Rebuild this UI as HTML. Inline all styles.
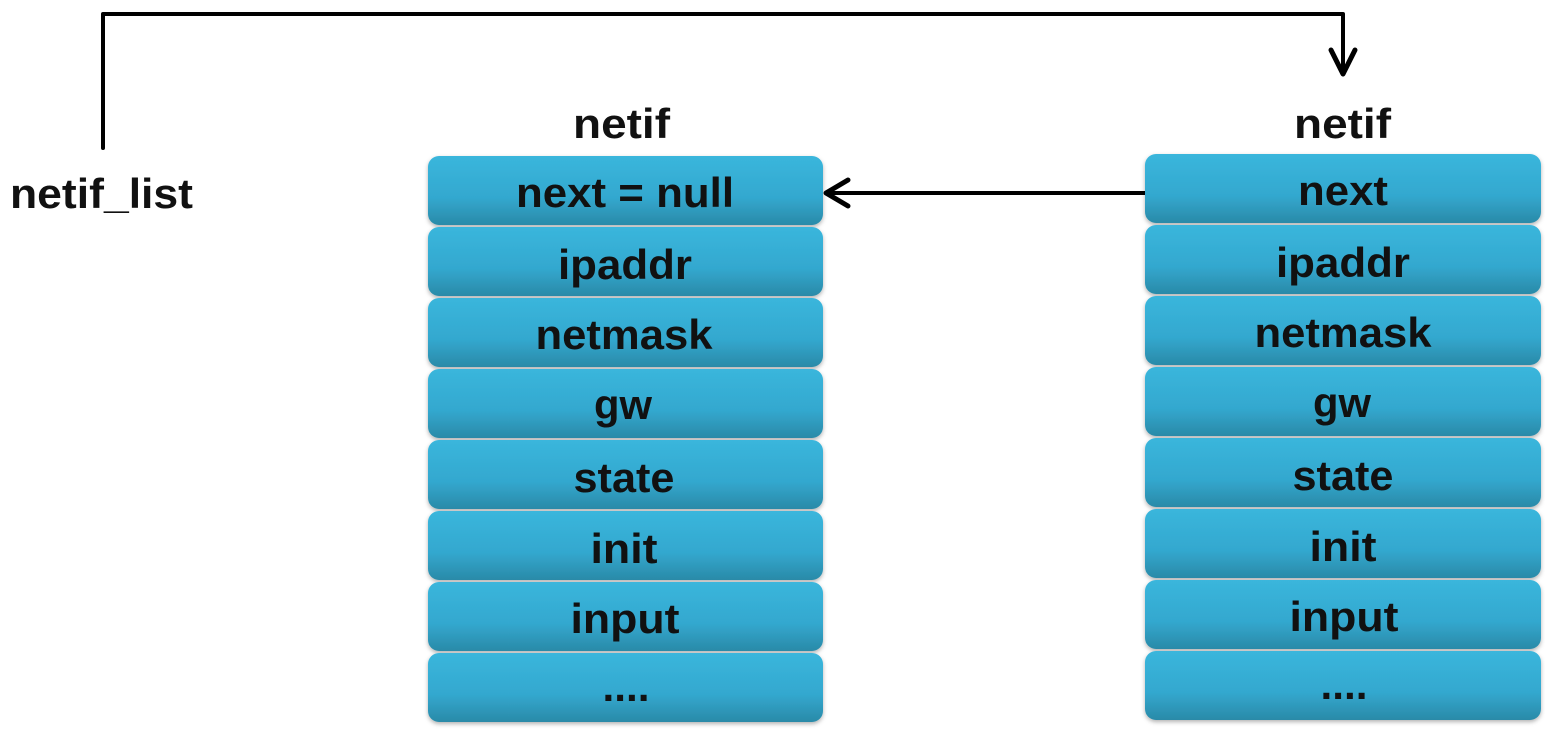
<!DOCTYPE html>
<html><head><meta charset="utf-8"><style>
html,body{margin:0;padding:0;background:#fff;}
svg{display:block}
text{font-family:"Liberation Sans",sans-serif;font-weight:bold;fill:#111;}
</style></head><body>
<svg width="1545" height="734" viewBox="0 0 1545 734" xmlns="http://www.w3.org/2000/svg">
<defs>
<linearGradient id="g" x1="0" y1="0" x2="0" y2="1">
<stop offset="0" stop-color="#3ab6dc"/>
<stop offset="0.6" stop-color="#33a8cf"/>
<stop offset="1" stop-color="#2a8aa8"/>
</linearGradient>
<filter id="s" x="-5%" y="-20%" width="110%" height="150%"><feDropShadow dx="0" dy="2" stdDeviation="2" flood-color="#000" flood-opacity="0.3"/></filter>
</defs>
<g fill="none" stroke="#000" stroke-width="4" stroke-linejoin="round" stroke-linecap="round">
<polyline points="103,148 103,14 1343,14 1343,74"/>
<polyline points="1331,50 1343,74 1355,50" stroke-width="5"/>
<line x1="1145" y1="193" x2="826" y2="193"/>
<polyline points="848,180 826,193 848,206" stroke-width="5"/>
</g>
<text x="10" y="208" font-size="42" textLength="183" lengthAdjust="spacingAndGlyphs">netif_list</text>
<text x="573" y="138" font-size="42" textLength="97" lengthAdjust="spacingAndGlyphs">netif</text>
<text x="1294" y="138" font-size="42" textLength="97" lengthAdjust="spacingAndGlyphs">netif</text>
<g filter="url(#s)" fill="url(#g)">
<rect x="428" y="156" width="395" height="69" rx="11"/>
<rect x="428" y="227" width="395" height="69" rx="11"/>
<rect x="428" y="298" width="395" height="69" rx="11"/>
<rect x="428" y="369" width="395" height="69" rx="11"/>
<rect x="428" y="440" width="395" height="69" rx="11"/>
<rect x="428" y="511" width="395" height="69" rx="11"/>
<rect x="428" y="582" width="395" height="69" rx="11"/>
<rect x="428" y="653" width="395" height="69" rx="11"/>
<rect x="1145" y="154" width="396" height="69" rx="11"/>
<rect x="1145" y="225" width="396" height="69" rx="11"/>
<rect x="1145" y="296" width="396" height="69" rx="11"/>
<rect x="1145" y="367" width="396" height="69" rx="11"/>
<rect x="1145" y="438" width="396" height="69" rx="11"/>
<rect x="1145" y="509" width="396" height="69" rx="11"/>
<rect x="1145" y="580" width="396" height="69" rx="11"/>
<rect x="1145" y="651" width="396" height="69" rx="11"/>
</g>
<g font-size="42" text-anchor="middle">
<text x="625" y="207" textLength="218" lengthAdjust="spacingAndGlyphs">next = null</text>
<text x="625" y="279" textLength="134" lengthAdjust="spacingAndGlyphs">ipaddr</text>
<text x="624" y="349" textLength="177" lengthAdjust="spacingAndGlyphs">netmask</text>
<text x="623" y="419" textLength="58" lengthAdjust="spacingAndGlyphs">gw</text>
<text x="624" y="492" textLength="101" lengthAdjust="spacingAndGlyphs">state</text>
<text x="624" y="563" textLength="67" lengthAdjust="spacingAndGlyphs">init</text>
<text x="625" y="633" textLength="109" lengthAdjust="spacingAndGlyphs">input</text>
<text x="626" y="701" textLength="47" lengthAdjust="spacingAndGlyphs">....</text>
<text x="1343" y="205" textLength="90" lengthAdjust="spacingAndGlyphs">next</text>
<text x="1343" y="277" textLength="134" lengthAdjust="spacingAndGlyphs">ipaddr</text>
<text x="1343" y="347" textLength="177" lengthAdjust="spacingAndGlyphs">netmask</text>
<text x="1342" y="417" textLength="58" lengthAdjust="spacingAndGlyphs">gw</text>
<text x="1343" y="490" textLength="101" lengthAdjust="spacingAndGlyphs">state</text>
<text x="1343" y="561" textLength="67" lengthAdjust="spacingAndGlyphs">init</text>
<text x="1344" y="631" textLength="109" lengthAdjust="spacingAndGlyphs">input</text>
<text x="1344" y="699" textLength="47" lengthAdjust="spacingAndGlyphs">....</text>
</g>
</svg>
</body></html>
